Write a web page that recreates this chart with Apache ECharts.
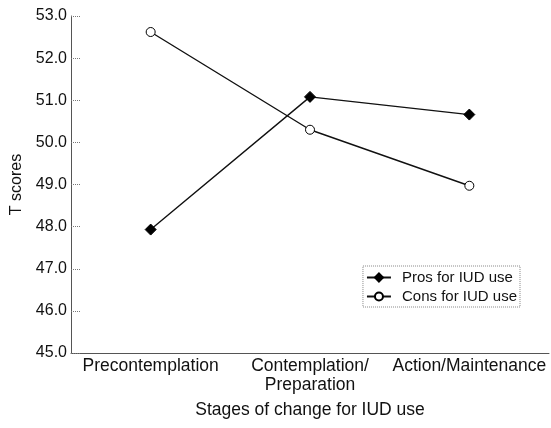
<!DOCTYPE html>
<html><head><meta charset="utf-8">
<script src="https://cdn.jsdelivr.net/npm/echarts@6/dist/echarts.min.js"></script>
<style>html,body{margin:0;padding:0;background:#fff}#c{width:551px;height:428px}</style>
</head><body><div id="c"></div>
<script>
const categories = ['Precontemplation', 'Contemplation/\nPreparation', 'Action/Maintenance'];
const prosValues = [47.93, 51.08, 50.66];
const consValues = [52.62, 50.30, 48.97];
const yTicks = {min: 45, max: 53, interval: 1};
const FONT = '"Liberation Sans", Arial, sans-serif';
const chart = echarts.init(document.getElementById('c'));
chart.setOption({
  animation: false,
  backgroundColor: '#fff',
  textStyle: {fontFamily: FONT},
  grid: {left: 71, right: 2, top: 16, bottom: 75},
  legend: {
    orient: 'vertical', right: 31, top: 266,
    itemWidth: 24, itemHeight: 10, itemGap: 4,
    padding: [4, 3, 3, 3],
    borderColor: '#888', borderWidth: 1, borderType: 'dotted',
    textStyle: {fontFamily: FONT, fontSize: 15, color: '#111', padding: [0, 0, 0, 6]},
    data: ['Pros for IUD use', 'Cons for IUD use']
  },
  xAxis: {
    type: 'category', data: categories, boundaryGap: true,
    name: 'Stages of change for IUD use', nameLocation: 'middle', nameGap: 48,
    nameTextStyle: {fontFamily: FONT, fontSize: 17.5, color: '#111'},
    axisLine: {lineStyle: {color: '#555', width: 1}},
    axisTick: {inside: true, length: 8, lineStyle: {color: '#555'}},
    axisLabel: {fontFamily: FONT, fontSize: 17.5, color: '#111', margin: 4, lineHeight: 19, interval: 0}
  },
  yAxis: {
    type: 'value', min: yTicks.min, max: yTicks.max, interval: yTicks.interval,
    name: 'T scores', nameLocation: 'middle', nameGap: 44, nameRotate: 90,
    nameTextStyle: {fontFamily: FONT, fontSize: 16, color: '#111'},
    axisLine: {show: true, lineStyle: {color: '#555', width: 1}},
    axisTick: {show: true, inside: true, length: 9, lineStyle: {color: '#777', type: 'dotted'}},
    splitLine: {show: false},
    axisLabel: {fontFamily: FONT, fontSize: 16, color: '#111', margin: 4, formatter: v => v.toFixed(1)}
  },
  series: [
    {name: 'Pros for IUD use', type: 'line', data: prosValues,
     symbol: 'diamond', symbolSize: 11, showAllSymbol: true,
     lineStyle: {color: '#111', width: 1.4},
     itemStyle: {color: '#000', borderColor: '#000', borderWidth: 1}},
    {name: 'Cons for IUD use', type: 'line', data: consValues,
     symbol: 'circle', symbolSize: 9, showAllSymbol: true,
     lineStyle: {color: '#111', width: 1.4},
     itemStyle: {color: '#fff', borderColor: '#000', borderWidth: 1}}
  ]
});
</script></body></html>
